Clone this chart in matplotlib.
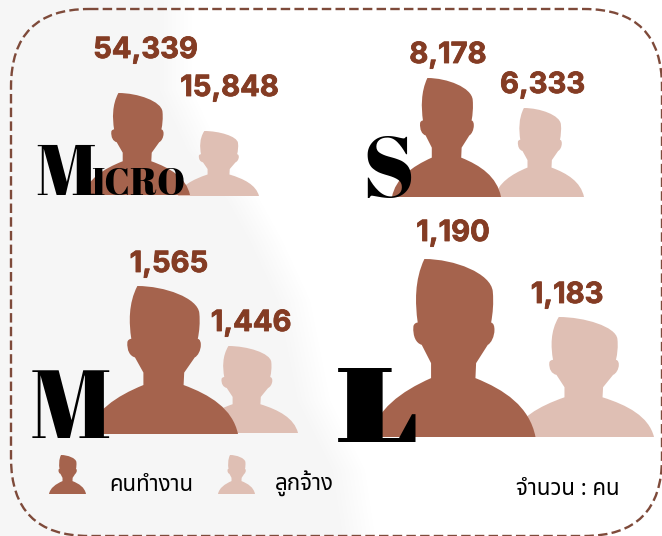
import matplotlib
matplotlib.use('Agg')
import matplotlib.pyplot as plt
import matplotlib.patheffects as pe
from matplotlib.patches import FancyBboxPatch, PathPatch, Polygon
from matplotlib.path import Path

W, H = 662, 536
plt.rcParams['font.family'] = ['Noto Sans Thai', 'DejaVu Sans']
NUM = ['Inter', 'Noto Sans', 'DejaVu Sans']
DISPLAY = ['Abril Fatface', 'Playfair Display', 'Liberation Serif', 'DejaVu Serif']
WIDE = ['Gravitas One', 'Abril Fatface', 'Liberation Serif', 'DejaVu Serif']
THAI = ['Noto Sans Thai', 'Sarabun', 'DejaVu Sans']

# data
sizes = ['Micro', 'S', 'M', 'L']
workers = [54339, 8178, 1565, 1190]
employees = [15848, 6333, 1446, 1183]
legend_labels = ['คนทำงาน', 'ลูกจ้าง']
unit_label = 'จำนวน : คน'

DARK, LIGHT, NUMC, DASH = '#A5634D', '#DFBFB4', '#843C24', '#7E4A3A'

fig = plt.figure(figsize=(W / 100, H / 100), dpi=100)
ax = fig.add_axes([0, 0, 1, 1])
ax.set_xlim(0, W); ax.set_ylim(H, 0); ax.axis('off')
fig.patch.set_facecolor('white')

# faint backdrop with a soft edge
edge = [(172, 0), (172, 90), (200, 150), (240, 200), (262, 240), (290, 300), (310, 400),
        (345, 470), (355, 536)]
for d in range(-12, 24, 4):
    ax.add_patch(Polygon([(0, 0)] + [(x + d, y) for x, y in edge] + [(0, 536)],
                         fc='k', alpha=0.005, ec='none', zorder=0))

# person silhouette outline, in its own drawing units
M_, L_, C_ = Path.MOVETO, Path.LINETO, Path.CURVE4
SIL = [((120, 682), M_),
       ((135, 600), C_), ((210, 545), C_), ((300, 505), C_),
       ((300, 460), L_), ((272, 405), L_),
       ((255, 400), C_), ((245, 380), C_), ((247, 350), C_),
       ((248, 342), C_), ((255, 338), C_), ((260, 338), C_),
       ((252, 280), C_), ((250, 210), C_), ((280, 147), C_),
       ((370, 147), C_), ((480, 190), C_), ((485, 245), C_),
       ((488, 280), C_), ((485, 310), C_), ((480, 338), C_),
       ((488, 340), C_), ((490, 350), C_), ((490, 360), C_),
       ((490, 380), C_), ((480, 400), C_), ((470, 405), C_),
       ((435, 460), L_), ((433, 505), L_),
       ((520, 540), C_), ((595, 590), C_), ((613, 682), C_),
       ((120, 682), L_)]


def person(x0, x1, top, base, color, z):
    v = [(x0 + (p[0] - 120) / 493 * (x1 - x0), base - (682 - p[1]) / 535 * (base - top))
         for p, _ in SIL]
    ax.add_patch(PathPatch(Path(v, [c for _, c in SIL]), fc=color, ec='none', zorder=z))


boxes_w = [(84, 190, 93, 195), (392, 501, 78, 197), (89, 238, 286, 434), (371, 535.5, 259, 437)]
boxes_e = [(178, 259, 131, 196), (495, 584, 108, 197), (195, 298, 346, 433), (513, 654, 317, 437)]
num_w = [(145.5, 58), (448, 63), (169, 272), (453, 241)]
num_e = [(229.5, 96), (542.5, 93), (251, 331), (567, 303)]

stroke = [pe.withStroke(linewidth=0.6, foreground=NUMC)]
for i in range(4):
    person(*boxes_e[i], LIGHT, 2)
    person(*boxes_w[i], DARK, 3)
    for (x, y), val in ((num_w[i], workers[i]), (num_e[i], employees[i])):
        ax.text(x, y, f'{val:,}', ha='center', va='baseline', color=NUMC, fontsize=21,
                family=NUM, fontweight='bold', zorder=5, path_effects=stroke)

# size captions
ax.text(35, 195, sizes[0][0].upper(), fontsize=52, family=DISPLAY, va='baseline', color='k', zorder=6)
ax.text(91, 195, sizes[0][1:].upper(), fontsize=27, family=DISPLAY, va='baseline', color='k', zorder=6)
ax.text(362, 197, sizes[1], fontsize=62, family=DISPLAY, va='baseline', color='k', zorder=6)
ax.text(29.5, 438, sizes[2], fontsize=70, family=DISPLAY, va='baseline', color='k', zorder=6)
ax.text(333, 442, sizes[3], fontsize=76, family=WIDE, va='baseline', color='k', zorder=6)

# legend
person(49, 86, 455, 494, DARK, 3)
person(218, 255, 455, 494, LIGHT, 3)
ax.text(109, 491, legend_labels[0], fontsize=16, family=THAI, va='baseline', color='k')
ax.text(275, 491, legend_labels[1], fontsize=16, family=THAI, va='baseline', color='k')
ax.text(620, 495, unit_label, fontsize=16, family=THAI, ha='right', va='baseline', color='k')

# dashed frame
r = 78
ax.add_patch(FancyBboxPatch((11 + r, 9 + r), 651 - 2 * r, 527 - 2 * r,
                            boxstyle=f'round,pad={r},rounding_size={r}', fc='none', ec=DASH,
                            lw=1.7, ls=(0, (4, 1.8)), zorder=7, clip_on=False))
fig.savefig('out.png', dpi=100)
